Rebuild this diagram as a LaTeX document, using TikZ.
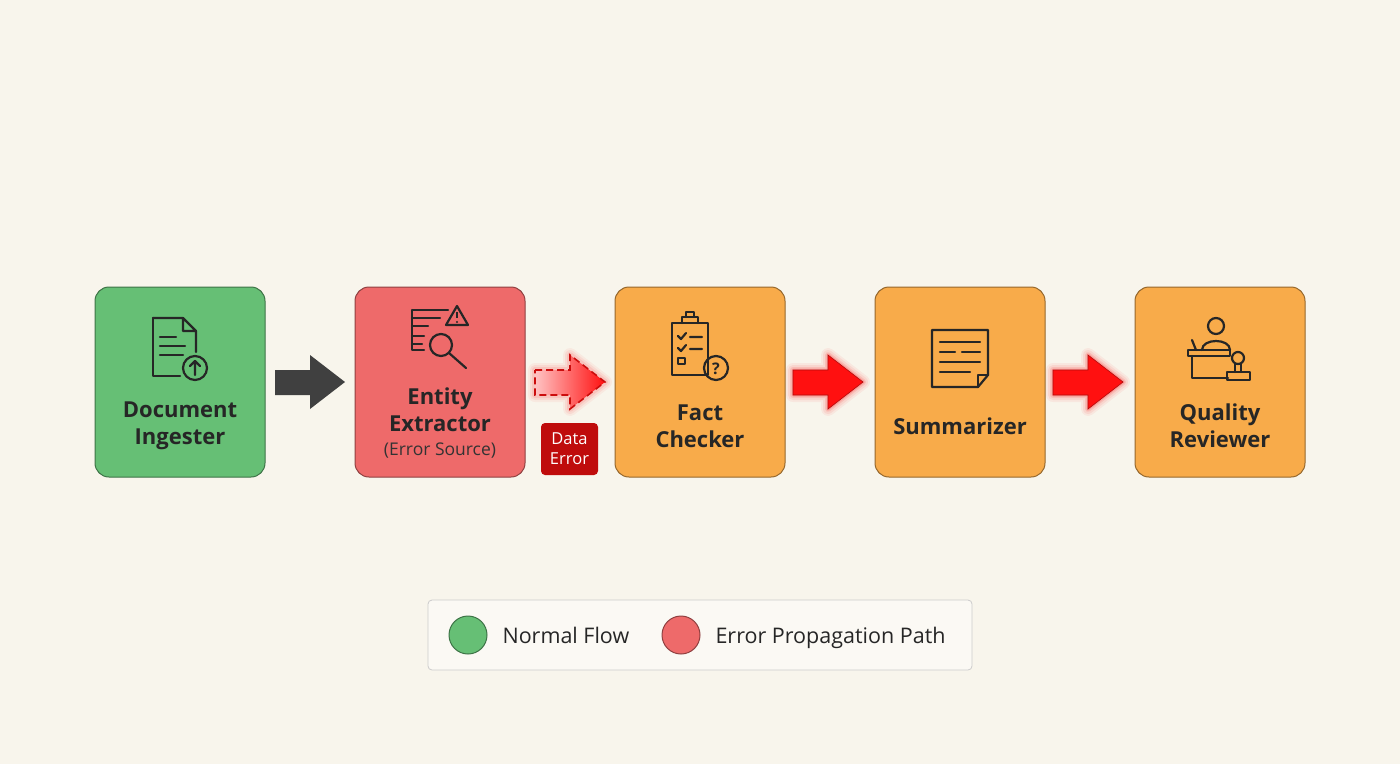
\documentclass[tikz,border=0pt]{standalone}
\usepackage{fontspec}
\setmainfont{Open Sans}
\begin{document}
\begin{tikzpicture}[x=1pt,y=-1pt,
  box/.style={draw=#1!60!black, line width=1pt, rounded corners=14pt, minimum width=170pt, minimum height=190pt},
  lbl/.style={font=\fontsize{22}{27}\selectfont\bfseries, align=center, text=black!85},
  ic/.style={line width=2.2pt, draw=black!85, line cap=round, line join=round}]
\definecolor{bg}{HTML}{F8F5EC}
\definecolor{gr}{HTML}{66BF75}
\definecolor{rd}{HTML}{EE6A6A}
\definecolor{org}{HTML}{F8AB4A}
\definecolor{arr}{HTML}{FF1010}
\fill[bg] (0,0) rectangle (1400,764);
\useasboundingbox (0,0) rectangle (1400,764);
% boxes
\node[box=gr, fill=gr] (a) at (180,382) {};
\node[box=rd, fill=rd] (b) at (440,382) {};
\node[box=org, fill=org] (c) at (700,382) {};
\node[box=org, fill=org] (d) at (960,382) {};
\node[box=org, fill=org] (e) at (1220,382) {};
\node[lbl] at (180,426) {Document\\Ingester};
\node[lbl] at (440,410) {Entity\\Extractor};
\node[font=\fontsize{17.5}{20}\selectfont, text=black!80] at (440,451) {(Error Source)};
\node[lbl] at (700,426) {Fact\\Checker};
\node[lbl] at (960,426) {Summarizer};
\node[lbl] at (1220,426) {Quality\\Reviewer};
% arrows
\def\blk#1{(#1,370) -- ++(35,0) -- ++(0,-15) -- ++(35,27) -- ++(-35,27) -- ++(0,-14) -- ++(-35,0) -- cycle}
\fill[black!75] \blk{275};
\foreach \x in {793,1053}{
  \foreach \w/\o in {14/0.06,10/0.08,6/0.12,3/0.18}
    \draw[arr, line width=\w pt, opacity=\o, line join=round] \blk{\x};
  \fill[arr] \blk{\x};
  \draw[arr!70!black, line width=0.6pt] \blk{\x};
}
\foreach \w/\o in {14/0.05,10/0.07,6/0.1}
  \draw[arr, line width=\w pt, opacity=\o, line join=round] \blk{535};
\shade[left color=arr!25, right color=arr] \blk{535};
\draw[arr!80!black, line width=1.6pt, dash pattern=on 7pt off 4pt] \blk{535};
% data error
\node[fill=arr!75!black, rounded corners=4pt, minimum width=57pt, minimum height=52pt, text=white,
  font=\fontsize{16.5}{20}\selectfont, align=center] (de) at (569.5,449) {Data\\Error};
% icon a: document with upload
\draw[ic] (153,318) -- (183,318) -- (196,331) -- (196,352) (183,318) -- (183,331) -- (196,331);
\draw[ic] (153,318) -- (153,376) -- (180,376);
\draw[ic] (160,337) -- (176,337) (160,346) -- (185,346) (160,355) -- (183,355);
\draw[ic] (195,368) circle (12);
\draw[ic] (195,375) -- (195,361) (190,366) -- (195,361) -- (200,366);
% icon b: list, warning, magnifier
\draw[ic] (412,310) -- (448,310) (412,318) -- (440,318) (412,326) -- (428,326) (412,336) -- (424,336) (412,344) -- (422,344) (412,310) -- (412,350) -- (424,350);
\draw[ic] (457,306) -- (468,325) -- (446,325) -- cycle;
\draw[line width=1.6pt, black!85] (457,312) -- (457,318);
\fill[black!85] (457,322) circle (1.2);
\draw[ic] (441,345) circle (11);
\draw[ic] (449,353) -- (466,368);
% icon c: clipboard
\draw[ic] (672,323) rectangle (708,375);
\draw[ic] (682,323) -- (682,317) -- (698,317) -- (698,323) (686,317) -- (686,312) -- (694,312) -- (694,317);
\draw[ic] (678,336) -- (681,339) -- (686,333) (690,337) -- (702,337);
\draw[ic] (678,348) -- (681,351) -- (686,345) (690,349) -- (702,349);
\draw[ic] (678,358) rectangle (685,364);
\draw[ic] (716,368) circle (12);
\node[font=\fontsize{16}{16}\selectfont\bfseries, text=black!85] at (716,369) {?};
% icon d: summary page
\draw[ic] (932,330) -- (988,330) -- (988,375) -- (978,387) -- (932,387) -- cycle;
\draw[ic] (978,387) -- (978,375) -- (988,375);
\foreach \y/\l/\r in {342/940/980,352/940/955,352/962/980,362/940/980,372/940/970}
  \draw[ic] (\l,\y) -- (\r,\y);
% icon e: reviewer desk with stamp
\draw[ic] (1216,326) circle (8);
\draw[ic] (1202,350) .. controls (1202,338) and (1230,338) .. (1230,350);
\draw[ic] (1188,350) -- (1230,350) -- (1230,356) -- (1188,356) -- cycle;
\draw[ic] (1192,356) -- (1192,378) -- (1228,378);
\draw[ic] (1196,350) -- (1192,340);
\draw[ic] (1238,358) circle (6);
\draw[ic] (1235,364) -- (1235,372) (1241,364) -- (1241,372);
\draw[ic] (1227,372) rectangle (1250,380);
% legend
\node[draw=black!20, fill=bg!60!white, rounded corners=4pt, minimum width=544pt, minimum height=70pt, line width=0.8pt] (lg) at (700,635) {};
\node[circle, fill=gr, draw=gr!60!black, line width=1pt, minimum size=38pt] (l1) at (468,635) {};
\node[anchor=base west, font=\fontsize{21.5}{24}\selectfont, text=black!85] at (499,643) {Normal Flow};
\node[circle, fill=rd, draw=rd!60!black, line width=1pt, minimum size=38pt] (l2) at (681,635) {};
\node[anchor=base west, font=\fontsize{21.5}{24}\selectfont, text=black!85] at (712,643) {Error Propagation Path};
\end{tikzpicture}
\end{document}
